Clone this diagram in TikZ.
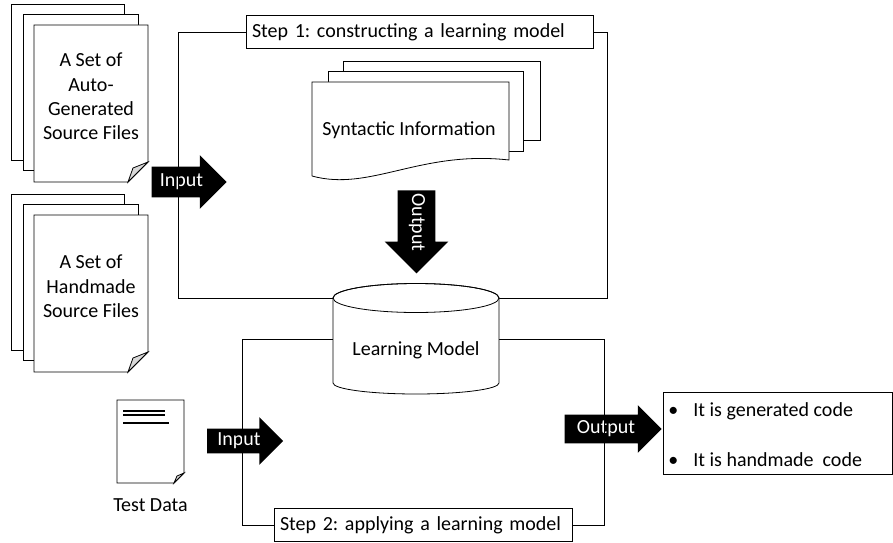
\documentclass[tikz,border=0pt]{standalone}
\usepackage{fontspec}
\setmainfont{Carlito}
\usetikzlibrary{shapes.arrows}

\begin{document}
\begin{tikzpicture}
	[
	x=1pt, y=1pt, line width=0.8pt, font=\fontsize{20}{24.4}\selectfont\frenchspacing,
	%Stile
	page/.style={draw, fill=white},
	fold/.style={draw, fill=gray!30},
	stepbox/.style={draw, fill=white, inner xsep=6pt, inner ysep=0pt, minimum height=33pt, align=left},
	blockarrow/.style={single arrow, fill=black, text=white, text height=13pt, text depth=4pt, inner xsep=2pt, single arrow head extend=11.5pt}
	]
	\useasboundingbox (0,0) rectangle (893,542);
	%Quelldateien
	\begin{scope}[shift={(34,360)}]
		\draw[page] (-23,22) rectangle (90,178);
		\draw[page] (-11,12) rectangle (104,168);
		\draw[page] (0,0) -- (0,157) -- (114,157) -- (114,20) -- (94,0) -- cycle;
		\draw[fold] (114,20) -- (94,0) -- (99,14) -- cycle;
		\node[align=center] (autofiles) at (57,85.5) {A Set of\\Auto-\\Generated\\Source Files};
	\end{scope}
	\begin{scope}[shift={(34,170)}]
		\draw[page] (-23,22) rectangle (90,178);
		\draw[page] (-11,12) rectangle (104,168);
		\draw[page] (0,0) -- (0,157) -- (114,157) -- (114,20) -- (94,0) -- cycle;
		\draw[fold] (114,20) -- (94,0) -- (99,14) -- cycle;
		\node[align=center] (handfiles) at (57,85.5) {A Set of\\Handmade\\Source Files};
	\end{scope}
	%Testdaten
	\begin{scope}[shift={(117,59)}]
		\draw[page] (0,0) -- (0,83) -- (67,83) -- (67,10) -- (57,0) -- cycle;
		\draw[fold] (67,10) -- (57,0) -- (60,7) -- cycle;
		\draw[line width=2pt] (6,72.3) -- (48,72.3) (6,68) -- (48,68) (6,59.7) -- (52,59.7);
	\end{scope}
	\node (testdata) at (150.5,37) {Test Data};
	%Syntaktische Information
	\draw[page] (343,402) rectangle (540,481);
	\draw[page] (328,391) rectangle (523,471);
	\draw[page] (312,366) -- (312,460) -- (509,460) -- (509,382) .. controls (420,392) and (370,350) .. (312,366);
	\node (syntax) at (409,412) {Syntactic Information};
	%Pfeile
	\node[blockarrow, minimum height=75pt, inner ysep=6.5pt] (input1) at (181.5,360) {Input};
	\node[blockarrow, minimum height=76pt, inner ysep=3.5pt] (input2) at (239,101) {Input};
	\node[blockarrow, rotate=-90, minimum height=83pt, inner ysep=10pt, single arrow head extend=13pt] (output1) at (416.5,319.5) {Output};
	\node[blockarrow, minimum height=97pt, inner ysep=5.5pt, single arrow head extend=9.5pt] (output2) at (606,113) {Output};
	%Rahmen
	\node[stepbox, text width=335pt] (step1) at (419.5,510) {Step 1: constructing a learning model};
	\node[stepbox, text width=286pt] (step2) at (423,17) {Step 2: applying a learning model};
	\coordinate (s1sw) at (178,244);
	\coordinate (s1se) at (607,244);
	\coordinate (s2nw) at (242,203);
	\coordinate (s2ne) at (604,203);
	\coordinate (cyl1w) at (333,244);
	\coordinate (cyl1e) at (499,244);
	\coordinate (cyl2w) at (333,203);
	\coordinate (cyl2e) at (499,203);
	\draw (step1.west) -| (s1sw) -- (cyl1w);
	\draw (step1.east) -| (s1se) -- (cyl1e);
	\draw (step2.west) -| (s2nw) -- (cyl2w);
	\draw (step2.east) -| (s2ne) -- (cyl2e);
	%Lernmodell
	\draw[page] (cyl1w) -- (333,159) arc[start angle=180, end angle=360, x radius=83, y radius=11] -- (cyl1e) arc[start angle=0, end angle=180, x radius=83, y radius=14.5] -- cycle;
	\draw (416,244) ellipse[x radius=83, y radius=14.5];
	\node (model) at (416,192) {Learning Model};
	%Ergebnis
	\node[draw, minimum width=229pt, minimum height=82pt] (result) at (777.5,109) {};
	\node[anchor=base west, inner sep=0pt] (generated) at (668,126) {\textbullet\hspace{15pt}It is generated code};
	\node[anchor=base west, inner sep=0pt] (handmade) at (668,76) {\textbullet\hspace{15pt}It is handmade\ \ code};
\end{tikzpicture}
\end{document}
